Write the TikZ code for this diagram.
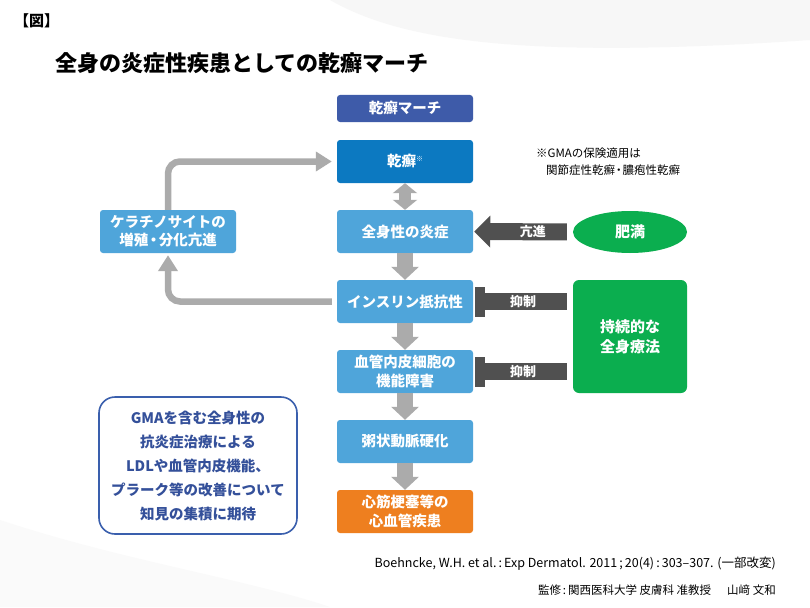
\documentclass[tikz,border=0pt]{standalone}
\usepackage{fontspec}
\setmainfont{Noto Sans CJK JP}
\usetikzlibrary{arrows.meta,shapes.geometric,calc}
\definecolor{hdrblue}{HTML}{3E5BA9}
\definecolor{psblue}{HTML}{0C79C1}
\definecolor{ltblue}{HTML}{4FA5DA}
\definecolor{orng}{HTML}{EE7F1F}
\definecolor{grn}{HTML}{0BAE4F}
\definecolor{dkgray}{HTML}{505050}
\definecolor{ltgray}{HTML}{ABABAB}
\definecolor{gmablue}{HTML}{3A5FAD}
\definecolor{gmatext}{HTML}{34509A}
\newcommand{\nakaguro}{\hspace{-2pt}・\hspace{-2pt}}
\tikzset{
  boxbase/.style={rectangle, rounded corners=3pt, minimum width=136pt, minimum height=43pt, inner sep=0pt, text=white, align=center, font=\fontsize{14.5}{18.5}\selectfont\bfseries},
  hdrbox/.style={boxbase, fill=hdrblue, minimum height=27pt},
  psbox/.style={boxbase, fill=psblue},
  ltbox/.style={boxbase, fill=ltblue},
  orbox/.style={boxbase, fill=orng},
  grayblock/.style={draw=ltgray, line width=16pt, -{Triangle[width=27pt,length=13pt]}},
  grayblockdbl/.style={draw=ltgray, line width=12pt, {Triangle[width=24pt,length=10pt]}-{Triangle[width=24pt,length=10pt]}},
  loopar/.style={draw=ltgray, line width=6.5pt, rounded corners=12pt, -{Triangle[width=19pt,length=16pt]}},
  darkar/.style={draw=dkgray, line width=17pt, -{Triangle[width=31pt,length=16pt]}},
  inhib/.style={draw=dkgray, line width=17pt, -{Rectangle[width=30pt,length=10pt]}},
  arlabel/.style={text=white, font=\fontsize{13}{15}\selectfont\bfseries, inner sep=0pt},
}
\begin{document}
\begin{tikzpicture}[x=1pt,y=-1pt]
\useasboundingbox (0,0) rectangle (810,607);
\fill[white] (0,0) rectangle (810,607);
% background faint shapes
\fill[black!3] (330,0) .. controls (400,40) and (520,60) .. (810,40) -- (810,0) -- cycle;
\fill[black!2] (0,520) .. controls (120,560) and (250,580) .. (330,607) -- (0,607) -- cycle;

% titles
\node[anchor=west, inner sep=0pt, font=\fontsize{15}{17}\selectfont\bfseries] (fig) at (14,21) {【図】};
\node[anchor=west, inner sep=0pt, font=\fontsize{22}{26}\selectfont\bfseries] (title) at (55,63) {全身の炎症性疾患としての乾癬マーチ};

% main column
\node[hdrbox] (hdr) at (405,108.5) {乾癬マーチ};
\node[psbox] (ps) at (405,161.5) {乾癬\raisebox{5pt}{\fontsize{7}{8}\selectfont\mdseries ※}};
\node[ltbox] (inf) at (405,231.5) {全身性の炎症};
\node[ltbox] (ins) at (405,301.5) {インスリン抵抗性};
\node[ltbox] (endo) at (405,371.5) {血管内皮細胞の\\機能障害};
\node[ltbox] (ath) at (405,441.5) {粥状動脈硬化};
\node[orbox] (cvd) at (405,511.5) {心筋梗塞等の\\心血管疾患};

% left
\node[ltbox] (kera) at (168,231.5) {ケラチノサイトの\\増殖\nakaguro 分化亢進};

% right
\node[ellipse, fill=grn, minimum width=114pt, minimum height=42pt, inner sep=0pt, text=white, font=\fontsize{15}{18}\selectfont\bfseries] (obes) at (630,232) {肥満};
\node[rectangle, rounded corners=6pt, fill=grn, minimum width=114pt, minimum height=113pt, inner sep=0pt, align=center, text=white, font=\fontsize{15}{20}\selectfont\bfseries] (ther) at (630,336.5) {持続的な\\全身療法};

% note
\node[anchor=west, inner sep=0pt, align=left, font=\fontsize{11.5}{17}\selectfont] (note) at (536,162) {※GMAの保険適用は\\\hspace*{10pt}関節症性乾癬\nakaguro 膿疱性乾癬};

% GMA box
\node[rectangle, rounded corners=16pt, draw=gmablue, line width=1.6pt, fill=white, minimum width=198pt, minimum height=137pt, inner sep=0pt, align=center, text=gmatext, font=\fontsize{14.5}{24}\selectfont\bfseries] (gma) at (198,465.5) {GMAを含む全身性の\\抗炎症治療による\\LDLや血管内皮機能、\\プラーク等の改善について\\知見の集積に期待};

% gray block arrows
\draw[grayblockdbl] (ps.south) -- (inf.north);
\draw[grayblock] (inf.south) -- (ins.north);
\draw[grayblock] (ins.south) -- (endo.north);
\draw[grayblock] (endo.south) -- (ath.north);
\draw[grayblock] (ath.south) -- (cvd.north);

% loop arrows
\draw[loopar] (kera.north) |- ([xshift=-5pt]ps.west);
\draw[loopar, shorten >=2pt] ([xshift=-5pt]ins.west) -| (kera.south);

% dark arrows
\draw[darkar, shorten <=6pt, shorten >=1pt] (obes.west) -- (inf.east) node[arlabel, pos=0.4] {亢進};
\draw[inhib, shorten <=6pt, shorten >=2pt] (ther.west |- ins.east) -- (ins.east) node[arlabel, pos=0.5] {抑制};
\draw[inhib, shorten <=6pt, shorten >=2pt] (ther.west |- endo.east) -- (endo.east) node[arlabel, pos=0.5] {抑制};

% references
\node[anchor=east, inner sep=0pt, font=\fontsize{12.5}{14}\selectfont] (ref) at (776,564) {Boehncke, W.H. et al.\,:\,Exp Dermatol. 2011\,;\,20(4)\,:\,303–307. (一部改変)};
\node[anchor=east, inner sep=0pt, font=\fontsize{11.5}{14}\selectfont] (sup) at (776,590) {監修\,:\,関西医科大学 皮膚科 准教授\hspace{16pt}山﨑 文和};
\end{tikzpicture}
\end{document}
